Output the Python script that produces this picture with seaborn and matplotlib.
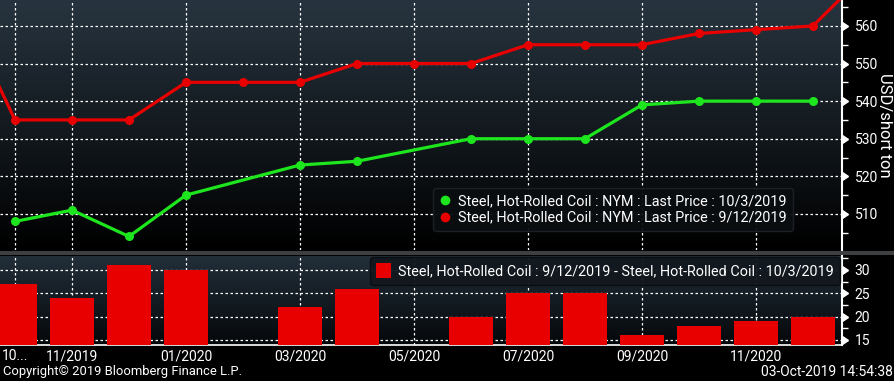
"""
Steel HRC futures curve (NYM), 9/12/2019 vs 10/3/2019, Bloomberg style
"""

import numpy as np
import pandas as pd
import matplotlib.pyplot as plt
import seaborn as sns
from matplotlib.colors import LinearSegmentedColormap
from matplotlib.lines import Line2D
from matplotlib.patches import Patch, Rectangle
from matplotlib.markers import CARETRIGHTBASE
from matplotlib.ticker import MultipleLocator

# contract months as positions: 0 = 10/2019 ... 14 = 12/2020
red_pos = [-1, 0, 1, 2, 3, 4, 5, 6, 7, 8, 9, 10, 11, 12, 13, 14, 15]
red_vals = [567, 535, 535, 535, 545, 545, 545, 550, 550, 550, 555, 555, 555, 558, 559, 560, 575]

green_pos = [0, 1, 2, 3, 5, 6, 8, 9, 10, 11, 12, 13, 14]
green_vals = [508, 511, 504, 515, 523, 524, 530, 530, 530, 539, 540, 540, 540]

spread_pos = [0, 1, 2, 3, 5, 6, 8, 9, 10, 11, 12, 13, 14]
spread_vals = [27, 24, 31, 30, 22, 26, 20, 25, 25, 16, 18, 19, 20]

tick_pos = [0, 1, 3, 5, 7, 9, 11, 13]
tick_labels = ['10...', '11/2019', '01/2020', '03/2020', '05/2020', '07/2020', '09/2020', '11/2020']

price_ticks = [510, 520, 530, 540, 550, 560]
spread_ticks = [15, 20, 25, 30]

label_old = 'Steel, Hot-Rolled Coil : NYM : Last Price : 9/12/2019'
label_new = 'Steel, Hot-Rolled Coil : NYM : Last Price : 10/3/2019'
label_spread = 'Steel, Hot-Rolled Coil : 9/12/2019 - Steel, Hot-Rolled Coil : 10/3/2019'

RED = '#e80000'
GREEN = '#1ee61e'
FONT = ['Roboto', 'DejaVu Sans']


def gradient(ax, top, bottom):
    cmap = LinearSegmentedColormap.from_list('bg', [bottom, top])
    grad = np.linspace(0, 1, 256).reshape(-1, 1)
    ax.imshow(grad, extent=[0, 1, 0, 1], transform=ax.transAxes, cmap=cmap,
              aspect='auto', origin='lower', zorder=0)


def style_axis(ax, ticks):
    for s in ['left', 'top']:
        ax.spines[s].set_visible(False)
    ax.spines['right'].set_color('white')
    ax.spines['right'].set_linewidth(1.5)
    ax.yaxis.tick_right()
    ax.yaxis.set_label_position('right')
    ax.set_yticks(ticks)
    ax.set_xticks(tick_pos)
    ax.grid(True, color='white', linestyle=(0, (2, 2)), linewidth=0.9)
    ax.set_axisbelow(False)
    ax.tick_params(axis='y', which='major', length=0, pad=9, colors='white', labelsize=10)
    ax.tick_params(axis='y', which='minor', length=4, width=1, color='white')
    ax.tick_params(axis='x', length=0)
    # triangle markers in place of major ticks
    ax.plot(np.ones(len(ticks)), ticks, marker=CARETRIGHTBASE, ls='none', color='white',
            ms=6, transform=ax.get_yaxis_transform(), clip_on=False, zorder=5)


def main():
    plt.rcParams['font.family'] = FONT
    fig = plt.figure(figsize=(8.95, 3.81), dpi=100, facecolor='black')

    W, H = 895, 381
    ax1 = fig.add_axes([0, 1 - 250 / H, 842 / W, 250 / H])
    ax2 = fig.add_axes([0, 1 - 345 / H, 842 / W, 89 / H])

    gradient(ax1, '#27343f', '#000000')
    gradient(ax2, '#222e39', '#05080b')

    df_old = pd.DataFrame({'pos': red_pos, 'price': red_vals})
    df_new = pd.DataFrame({'pos': green_pos, 'price': green_vals})
    df_spread = pd.DataFrame({'pos': spread_pos, 'spread': spread_vals})

    sns.lineplot(data=df_old, x='pos', y='price', ax=ax1, color=RED, linewidth=2.3,
                 marker='o', markersize=6.5, markeredgewidth=0, zorder=3)
    sns.lineplot(data=df_new, x='pos', y='price', ax=ax1, color=GREEN, linewidth=2.3,
                 marker='o', markersize=6.5, markeredgewidth=0, zorder=3)

    sns.barplot(data=df_spread, x='pos', y='spread', ax=ax2, native_scale=True,
                width=0.77, color=RED, saturation=1, errorbar=None, zorder=3)

    style_axis(ax1, price_ticks)
    style_axis(ax2, spread_ticks)
    ax1.yaxis.set_minor_locator(MultipleLocator(5))
    ax2.yaxis.set_minor_locator(MultipleLocator(2.5))

    ax1.spines['bottom'].set_visible(False)
    ax1.set_xticklabels([])
    ax2.spines['bottom'].set_color('white')
    ax2.spines['bottom'].set_linewidth(1.2)
    ax2.set_xticklabels(tick_labels)
    ax2.tick_params(axis='x', colors='white', labelsize=10, pad=3)

    ax1.set_xlim(-0.263, 14.51)
    ax2.set_xlim(-0.263, 14.51)
    ax1.set_ylim(500.4, 566.9)
    ax2.set_ylim(13.9, 33.0)

    ax1.set_xlabel('')
    ax2.set_xlabel('')
    ax2.set_ylabel('')
    ax1.set_ylabel('USD/short ton', rotation=270, color='white', fontsize=12,
                   va='center', ha='center', rotation_mode='anchor')
    ax1.yaxis.set_label_coords(1.051, 0.5)

    # legends
    h_new = Line2D([], [], marker='o', ls='none', color=GREEN, ms=7, markeredgewidth=0)
    h_old = Line2D([], [], marker='o', ls='none', color=RED, ms=7, markeredgewidth=0)
    leg1 = ax1.legend([h_new, h_old], [label_new, label_old], loc='upper left',
                      bbox_to_anchor=(0.514, 0.248), borderaxespad=0, fontsize=10.4,
                      labelcolor='white', facecolor='#0b0e11', edgecolor='#1c2228',
                      framealpha=0.95, handlelength=0.8, handletextpad=0.5,
                      labelspacing=0.15, borderpad=0.45, fancybox=True)
    leg1.set_zorder(6)

    h_sp = Patch(facecolor=RED, edgecolor='none')
    leg2 = ax2.legend([h_sp], [label_spread], loc='upper right',
                      bbox_to_anchor=(0.998, 0.99), borderaxespad=0, fontsize=10.4,
                      labelcolor='white', facecolor='#12181e', edgecolor='#0a0d10',
                      framealpha=0.95, handlelength=1.0, handleheight=1.2,
                      handletextpad=0.5, borderpad=0.45, fancybox=True)
    leg2.set_zorder(6)

    # separator bar between panels
    fig.add_artist(Rectangle((0, 1 - 255 / H), 1, 4 / H, transform=fig.transFigure,
                             facecolor='#3d3f41', edgecolor='none'))

    fig.text(3 / W, 1 - 372 / H, 'Copyright\u00a9 2019 Bloomberg Finance L.P.',
             color='white', fontsize=9.4, va='center', ha='left')
    fig.text(893 / W, 1 - 372 / H, '03-Oct-2019 14:54:38',
             color='white', fontsize=10, va='center', ha='right')

    fig.savefig('out.png', dpi=100, facecolor='black')
    plt.close('all')


if __name__ == '__main__':
    main()
